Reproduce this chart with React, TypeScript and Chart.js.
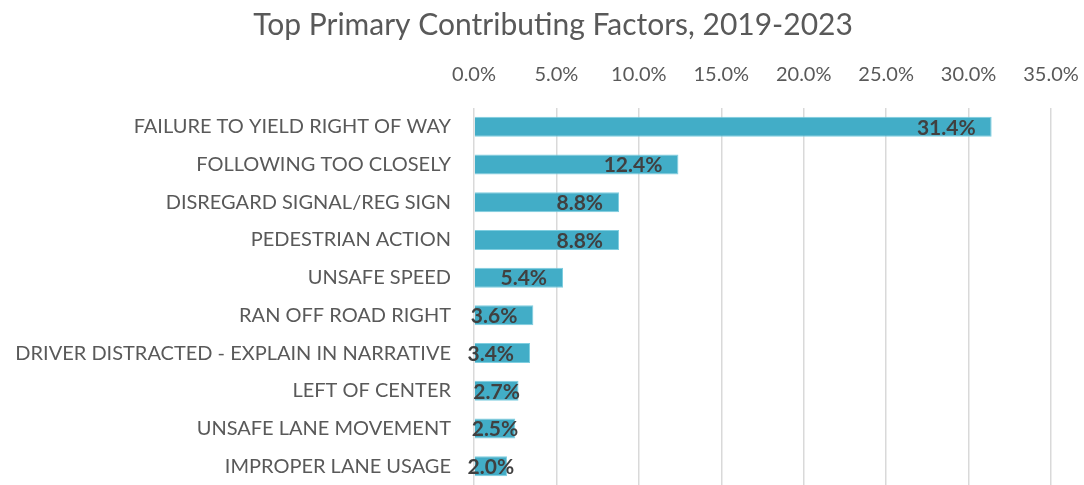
import React, { useEffect, useRef } from "react";
import { Chart, registerables } from "chart.js";

Chart.register(...registerables);

const categories = [
  "FAILURE TO YIELD RIGHT OF WAY",
  "FOLLOWING TOO CLOSELY",
  "DISREGARD SIGNAL/REG SIGN",
  "PEDESTRIAN ACTION",
  "UNSAFE SPEED",
  "RAN OFF ROAD RIGHT",
  "DRIVER DISTRACTED - EXPLAIN IN NARRATIVE",
  "LEFT OF CENTER",
  "UNSAFE LANE MOVEMENT",
  "IMPROPER LANE USAGE",
];
const shares = [31.4, 12.4, 8.8, 8.8, 5.4, 3.6, 3.4, 2.7, 2.5, 2.0];
const axisMax = 35;
const axisStep = 5;
const titleText = "Top Primary Contributing Factors, 2019-2023";

const FONT = "Lato, 'Open Sans', sans-serif";

const titlePlugin = {
  id: "centerTitle",
  afterDraw(chart: any) {
    const ctx = chart.ctx;
    ctx.save();
    ctx.font = `30px ${FONT}`;
    ctx.fillStyle = "#595959";
    ctx.textAlign = "center";
    ctx.textBaseline = "middle";
    ctx.fillText(titleText, 553, 25);
    ctx.restore();
  },
};

const labelPlugin = {
  id: "barLabels",
  afterDatasetsDraw(chart: any) {
    const ctx = chart.ctx;
    const meta = chart.getDatasetMeta(0);
    ctx.save();
    ctx.font = `bold 21px ${FONT}`;
    ctx.fillStyle = "#404040";
    ctx.textAlign = "right";
    ctx.textBaseline = "middle";
    meta.data.forEach((bar: any, i: number) => {
      const txt = shares[i].toFixed(1) + "%";
      const w = ctx.measureText(txt).width;
      const x0 = bar.base;
      let xr = bar.x - 16;
      if (xr - w < x0 - 8) xr = (x0 + bar.x) / 2 + w / 2;
      ctx.fillText(txt, xr, bar.y + 1);
    });
    ctx.restore();
  },
};

export default function App() {
  const ref = useRef<HTMLCanvasElement>(null);
  useEffect(() => {
    document.body.style.margin = "0";
    document.body.style.overflow = "hidden";
    const chart = new Chart(ref.current!, {
      type: "bar",
      data: {
        labels: categories,
        datasets: [
          {
            data: shares,
            backgroundColor: "#42ADC7",
            borderColor: "#7FCEE0",
            borderWidth: 1,
            barPercentage: 0.53,
            categoryPercentage: 1,
          },
        ],
      },
      options: {
        indexAxis: "y",
        animation: false,
        responsive: false,
        maintainAspectRatio: false,
        layout: { padding: { left: 0, right: 33, top: 47, bottom: -3 } },
        plugins: {
          legend: { display: false },
          tooltip: { enabled: false },
          title: { display: false },
        },
        scales: {
          x: {
            position: "top",
            min: 0,
            max: axisMax,
            ticks: {
              stepSize: axisStep,
              color: "#595959",
              font: { family: FONT, size: 20, lineHeight: 1.2 },
              padding: 21,
              maxRotation: 0,
              callback: (v: any) => Number(v).toFixed(1) + "%",
            },
            grid: { color: "#D9D9D9", lineWidth: 1.5, drawTicks: false },
            border: { display: false },
            afterFit: (scale: any) => {
              scale.height = 61;
              scale.paddingLeft = 0;
              scale.paddingRight = 0;
            },
          },
          y: {
            ticks: {
              color: "#595959",
              font: { family: FONT, size: 20, lineHeight: 1.2 },
              padding: 23,
              autoSkip: false,
            },
            grid: { display: false, drawTicks: false },
            border: { display: false },
            afterFit: (scale: any) => {
              scale.width = 474;
              scale.paddingTop = 0;
              scale.paddingBottom = 0;
            },
          },
        },
      },
      plugins: [labelPlugin, titlePlugin],
    });
    return () => chart.destroy();
  }, []);
  return (
    <div style={{ width: 1084, height: 485 }}>
      <canvas ref={ref} width={1084} height={485} />
    </div>
  );
}
